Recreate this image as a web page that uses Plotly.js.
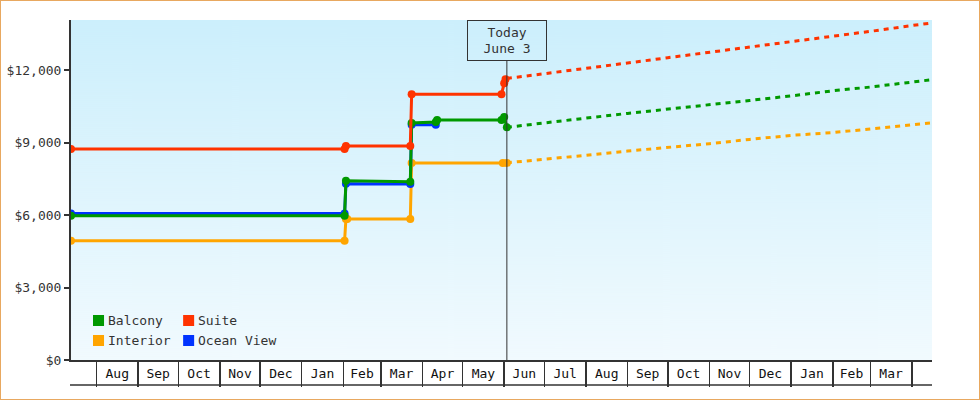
<!DOCTYPE html>
<html>
<head>
<meta charset="utf-8">
<script src="https://cdn.plot.ly/plotly-3.0.1.min.js"></script>
<style>
  html, body { margin: 0; padding: 0; background: #fff; }
  #chart { width: 980px; height: 400px; box-sizing: border-box; border: 1px solid #e8a860; }
</style>
</head>
<body>
<div id="chart"></div>
<script>
// ---------- data ----------
const seriesNames  = ['Balcony', 'Suite', 'Interior', 'Ocean View'];
const seriesColors = ['#009900', '#ff3300', '#ffa500', '#0033ff'];

const balconyDates  = ['2024-07-13','2025-02-02','2025-02-03','2025-03-23','2025-03-24','2025-04-11','2025-04-12','2025-05-30','2025-06-01','2025-06-03'];
const balconyPrices = [5970, 5970, 7420, 7380, 9810, 9850, 9930, 9930, 10060, 9630];

const suiteDates  = ['2024-07-13','2025-02-02','2025-02-03','2025-03-23','2025-03-24','2025-05-30','2025-06-01','2025-06-02'];
const suitePrices = [8730, 8730, 8860, 8860, 11000, 11000, 11450, 11620];

const interiorDates  = ['2024-07-13','2025-02-02','2025-02-03','2025-02-04','2025-03-23','2025-03-24','2025-05-31','2025-06-03'];
const interiorPrices = [4936, 4936, 5834, 5834, 5834, 8152, 8152, 8152];

const oceanDates  = ['2024-07-13','2025-02-02','2025-02-03','2025-03-23','2025-03-24','2025-04-11'];
const oceanPrices = [6060, 6060, 7290, 7280, 9740, 9740];

const projDates     = ['2025-06-03','2025-07-01','2025-08-01','2025-09-01','2025-10-01','2025-11-01','2025-12-01','2026-01-01','2026-02-01','2026-03-01','2026-04-01','2026-04-16'];
const balconyProj   = [9630, 9825, 10010, 10205, 10375, 10560, 10740, 10930, 11140, 11295, 11495, 11600];
const suiteProj     = [11650, 11840, 12060, 12290, 12510, 12730, 12950, 13180, 13400, 13600, 13840, 13950];
const interiorProj  = [8160, 8300, 8472, 8647, 8783, 8952, 9129, 9295, 9410, 9559, 9733, 9815];

const todayDate  = '2025-06-03';
const todayLabel = 'Today<br>June 3';

const xRange = ['2024-07-13', '2026-04-16'];
const yTicks = [0, 3000, 6000, 9000, 12000];
const monthStarts = ['2024-08-01','2024-09-01','2024-10-01','2024-11-01','2024-12-01','2025-01-01','2025-02-01','2025-03-01','2025-04-01','2025-05-01','2025-06-01','2025-07-01','2025-08-01','2025-09-01','2025-10-01','2025-11-01','2025-12-01','2026-01-01','2026-02-01','2026-03-01','2026-04-01'];
const monthLabels = ['Aug','Sep','Oct','Nov','Dec','Jan','Feb','Mar','Apr','May','Jun','Jul','Aug','Sep','Oct','Nov','Dec','Jan','Feb','Mar'];

// ---------- helpers ----------
const FONT = 'DejaVu Sans Mono, monospace';
const INK = '#333333';
const PL = 71, PR = 931, PT = 20, PB = 360;
const px2x = p => (p - PL) / (PR - PL);
const py2y = p => (PB - p) / (PB - PT);

function midDate(a, b) {
  const ta = Date.parse(a + 'T00:00:00Z'), tb = Date.parse(b + 'T00:00:00Z');
  const d = new Date((ta + tb) / 2);
  return d.toISOString().slice(0, 19).replace('T', ' ');
}
const monthMids = monthLabels.map((_, i) => midDate(monthStarts[i], monthStarts[i + 1]));

// gradient background
const cv = document.createElement('canvas');
cv.width = 8; cv.height = 340;
const ctx = cv.getContext('2d');
const grad = ctx.createLinearGradient(0, 0, 0, 340);
grad.addColorStop(0, 'rgb(204,239,252)');
grad.addColorStop(1, 'rgb(241,250,254)');
ctx.fillStyle = grad; ctx.fillRect(0, 0, 8, 340);
const bgURL = cv.toDataURL('image/png');

// ---------- traces ----------
function hist(name, xs, ys, color) {
  return { type: 'scatter', mode: 'lines+markers', name, x: xs, y: ys, xaxis: 'x', yaxis: 'y',
    line: { color, width: 3 }, marker: { color, size: 8 }, showlegend: false, hoverinfo: 'skip' };
}
function proj(name, xs, ys, color) {
  return { type: 'scatter', mode: 'lines', name: name + ' projection', x: xs, y: ys, xaxis: 'x2', yaxis: 'y',
    line: { color, width: 3, dash: '5px,5px' }, showlegend: false, hoverinfo: 'skip' };
}
const cB = seriesColors[0], cS = seriesColors[1], cI = seriesColors[2], cO = seriesColors[3];
const data = [
  hist(seriesNames[2], interiorDates, interiorPrices, cI),
  hist(seriesNames[3], oceanDates, oceanPrices, cO),
  hist(seriesNames[0], balconyDates, balconyPrices, cB),
  hist(seriesNames[1], suiteDates, suitePrices, cS),
  proj(seriesNames[2], projDates, interiorProj, cI),
  proj(seriesNames[0], projDates, balconyProj, cB),
  proj(seriesNames[1], projDates, suiteProj, cS)
];

// ---------- layout ----------
const shapes = [
  // bottom line of month boxes
  { type: 'line', xref: 'paper', yref: 'paper', x0: px2x(70), x1: 1, y0: py2y(385), y1: py2y(385),
    line: { color: INK, width: 1.5 } },
  // today line
  { type: 'line', xref: 'x', yref: 'paper', x0: todayDate, x1: todayDate, y0: 0, y1: py2y(61),
    line: { color: INK, width: 1 } }
];
const annotations = [
  { xref: 'x', yref: 'paper', x: todayDate, y: 1, xanchor: 'center', yanchor: 'top',
    text: todayLabel, showarrow: false, align: 'center',
    font: { family: FONT, size: 13, color: INK },
    bordercolor: INK, borderwidth: 1, borderpad: 1, width: 76, height: 37 }
];
// legend (2 columns)
seriesNames.forEach((nm, i) => {
  const col = i % 2, row = Math.floor(i / 2);
  const sx = 93 + col * 90, sy = 315 + row * 20;
  shapes.push({ type: 'rect', xref: 'paper', yref: 'paper',
    x0: px2x(sx), x1: px2x(sx + 11), y0: py2y(sy + 11), y1: py2y(sy),
    fillcolor: seriesColors[i], line: { width: 0 } });
  annotations.push({ xref: 'paper', yref: 'paper', x: px2x(sx + 13), y: py2y(sy + 5.5),
    xanchor: 'left', yanchor: 'middle', text: nm, showarrow: false,
    font: { family: FONT, size: 13, color: INK } });
});

const layout = {
  width: 978, height: 398,
  margin: { l: 70, r: 47, t: 19, b: 39, pad: 0 },
  paper_bgcolor: '#ffffff', plot_bgcolor: 'rgba(0,0,0,0)',
  font: { family: FONT, size: 13, color: INK },
  showlegend: false,
  images: [{ source: bgURL, xref: 'paper', yref: 'paper', x: 0, y: 1, sizex: 1, sizey: 1,
    sizing: 'stretch', xanchor: 'left', yanchor: 'top', layer: 'below' }],
  xaxis: {
    type: 'date', range: xRange, fixedrange: true,
    tickmode: 'array', tickvals: monthStarts, ticktext: monthStarts.map(() => ''),
    ticks: 'outside', ticklen: 25, tickwidth: 1.5, tickcolor: INK,
    showline: true, linecolor: INK, linewidth: 1.5,
    showgrid: false, zeroline: false
  },
  xaxis2: {
    type: 'date', range: xRange, overlaying: 'x', anchor: 'y', side: 'bottom', fixedrange: true,
    tickmode: 'array', tickvals: monthMids, ticktext: monthLabels,
    ticks: '', showline: false, showgrid: false, zeroline: false,
    tickfont: { family: FONT, size: 13, color: '#111' }, ticklabelstandoff: 4
  },
  yaxis: {
    range: [0, 14070], fixedrange: true,
    tickmode: 'array', tickvals: yTicks, ticktext: yTicks.map(v => '$' + v.toLocaleString('en-US')),
    ticks: 'outside', ticklen: 5, tickwidth: 2, tickcolor: INK,
    showline: true, linecolor: INK, linewidth: 2,
    showgrid: false, zeroline: false,
    tickfont: { family: FONT, size: 13, color: INK }
  },
  shapes, annotations
};

Plotly.newPlot('chart', data, layout, { staticPlot: true, displayModeBar: false });
</script>
</body>
</html>
